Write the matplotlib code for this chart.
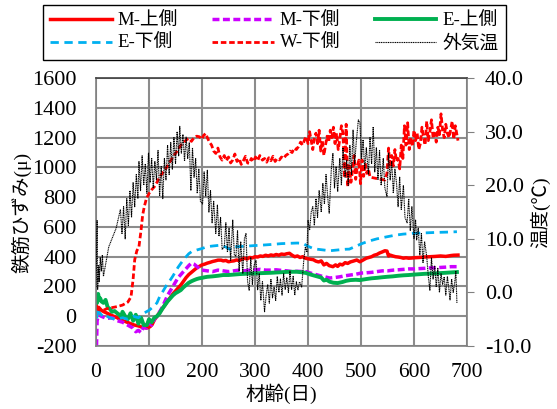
import matplotlib
matplotlib.use("Agg")
import matplotlib.pyplot as plt
from matplotlib.ticker import FormatStrFormatter

plt.rcParams['font.family'] = ['Liberation Serif', 'Noto Sans CJK JP']
plt.rcParams['axes.unicode_minus'] = False

# M-上側
m_up_day = [0, 2, 5, 10, 15, 20, 30, 40, 47, 55, 62, 72, 80, 88, 96, 102, 106, 110, 115, 120,
            125, 130, 134, 140, 145, 150, 155, 160, 165, 170, 175, 180, 185, 190, 195, 200, 205,
            210, 215, 220, 225, 230, 236, 240, 245, 250, 255, 260, 265, 270, 275, 280, 285, 290,
            295, 300, 305, 310, 315, 320, 325, 330, 335, 340, 345, 350, 355, 360, 365, 370, 375,
            380, 385, 390, 395, 403, 410, 415, 420, 425, 430, 435, 440, 447, 452, 456, 460, 465,
            470, 475, 480, 485, 492, 498, 505, 510, 515, 520, 525, 530, 535, 540, 545, 549, 552,
            555, 560, 565, 570, 575, 580, 585, 590, 595, 600, 610, 620, 630, 640, 650, 660, 670,
            675, 683]
m_up_val = [80, 20, 60, 40, 30, 22, 5, -10, -25, -35, -45, -59, -65, -75, -79, -70, -55, -25, 0, 25,
            50, 75, 97, 125, 150, 170, 190, 210, 235, 260, 280, 295, 310, 325, 335, 345, 350,
            357, 362, 368, 372, 377, 377, 372, 375, 366, 370, 372, 378, 375, 382, 390, 385, 395,
            392, 400, 398, 405, 402, 410, 405, 412, 408, 415, 410, 418, 415, 420, 423, 410, 400,
            405, 395, 400, 390, 384, 380, 370, 365, 372, 345, 355, 340, 333, 345, 335, 350, 345,
            360, 355, 365, 370, 378, 366, 380, 390, 395, 400, 410, 415, 425, 432, 440, 438, 405,
            411, 405, 400, 398, 395, 390, 393, 390, 391, 393, 395, 398, 400, 402, 405, 402, 408,
            410, 411]

# M-下側
m_low_day = [0, 1, 2, 5, 10, 20, 30, 40, 50, 60, 70, 75, 80, 85, 90, 95, 100, 105, 110, 115, 120,
             125, 130, 135, 140, 145, 150, 155, 160, 165, 170, 175, 180, 185, 190, 195, 200, 210,
             220, 230, 240, 250, 260, 270, 280, 290, 300, 310, 320, 330, 340, 350, 360, 370, 380,
             390, 397, 405, 415, 425, 435, 441, 450, 460, 470, 480, 490, 500, 510, 520, 530, 540,
             550, 561, 570, 580, 590, 600, 610, 620, 630, 640, 650, 660, 670, 681]
m_low_val = [-200, -190, -30, 10, 0, -15, -10, -30, -40, -60, -80, -104, -95, -110, -70, -80, -40,
             -60, -20, 0, 30, 60, 100, 140, 170, 200, 230, 260, 280, 300, 320, 340, 357, 350, 335,
             320, 310, 305, 300, 310, 305, 300, 305, 310, 305, 310, 312, 315, 310, 310, 312, 308,
             305, 300, 302, 300, 299, 290, 280, 270, 262, 257, 260, 265, 272, 277, 282, 290, 292,
             295, 300, 305, 305, 310, 312, 315, 318, 318, 320, 322, 325, 325, 328, 330, 333, 333]

# E-上側
e_up_day = [0, 2, 4, 6, 8, 10, 14, 18, 22, 26, 30, 35, 40, 44, 47, 50, 55, 60, 65, 70, 75, 80, 85,
            90, 96, 100, 105, 110, 115, 120, 125, 130, 135, 140, 145, 150, 155, 160, 165, 170, 175,
            180, 185, 190, 195, 200, 205, 210, 220, 230, 240, 250, 260, 270, 280, 290, 300, 314,
            330, 345, 360, 378, 390, 397, 405, 415, 425, 430, 435, 441, 448, 456, 465, 472, 480,
            490, 498, 510, 520, 530, 540, 549, 560, 570, 580, 590, 600, 620, 640, 660, 681]
e_up_val = [130, 90, 150, 110, 120, 100, 90, 110, 60, 50, 30, 35, 20, 10, -5, 30, 0, -20, 20, -30,
            10, -50, -10, -60, -59, -20, -40, -10, 0, 20, 50, 75, 100, 120, 140, 155, 165, 176, 195,
            210, 225, 235, 243, 250, 255, 258, 262, 265, 268, 272, 277, 277, 280, 283, 285, 287,
            288, 290, 292, 295, 298, 299, 295, 290, 280, 270, 260, 240, 245, 232, 225, 223, 230,
            238, 243, 245, 243, 250, 255, 258, 262, 265, 268, 272, 275, 277, 280, 285, 288, 292, 297]

# E-下側
e_low_day = [0, 2, 5, 10, 15, 20, 30, 40, 50, 60, 70, 80, 90, 100, 110, 115, 120, 125, 130, 135,
             140, 145, 150, 155, 160, 165, 170, 175, 180, 190, 200, 209, 220, 236, 245, 255, 262,
             280, 300, 314, 330, 350, 365, 380, 390, 400, 410, 416, 430, 441, 455, 470, 478, 490,
             503, 515, 530, 549, 565, 580, 598, 620, 640, 660, 681]
e_low_val = [40, -20, 30, 10, -10, 0, -15, -20, -10, -20, 0, -10, 20, 40, 70, 90, 131, 160, 190,
             220, 243, 270, 300, 330, 355, 380, 400, 420, 433, 445, 455, 467, 472, 478, 465, 445,
             467, 470, 475, 478, 482, 488, 490, 492, 490, 470, 455, 451, 445, 440, 445, 450, 451,
             470, 490, 505, 520, 534, 545, 552, 557, 560, 563, 565, 568]

# W-下側
w_low_day = [0, 5, 10, 15, 20, 25, 30, 40, 50, 60, 66, 70, 73, 77, 81, 85, 88, 91, 95, 100, 105,
             110, 115, 120, 125, 130, 135, 140, 145, 150, 155, 160, 165, 170, 175, 180, 185, 190,
             195, 200, 203, 207, 210, 214, 218, 222, 226, 230, 234, 238, 242, 246, 250, 254, 258,
             262, 266, 270, 274, 278, 282, 286, 289, 293, 297, 301, 305, 309, 314, 318, 322, 326,
             330, 334, 338, 342, 346, 350, 354, 358, 362, 366, 370, 374, 378, 382, 386, 390, 394,
             397, 400, 403, 406, 409, 412, 415, 418, 421, 424, 427, 430, 433, 436, 439, 442, 445,
             448, 451, 454, 457, 460, 463, 466, 469, 472, 475, 478, 481, 484, 487, 490, 493, 496,
             499, 502, 505, 508, 511, 514, 517, 530, 545, 549, 552, 555, 558, 561, 564, 567, 570,
             573, 576, 579, 582, 585, 588, 591, 594, 597, 600, 603, 606, 609, 612, 615, 618, 621,
             624, 627, 630, 633, 636, 639, 642, 645, 648, 651, 654, 657, 660, 663, 666, 669, 672,
             675, 678, 681, 683]
w_low_val = [60, 45, 40, 42, 50, 55, 58, 65, 75, 95, 130, 250, 380, 440, 467, 580, 680, 735, 790,
             825, 850, 870, 900, 935, 960, 982, 1010, 1040, 1070, 1094, 1120, 1150, 1165, 1184,
             1195, 1175, 1200, 1210, 1206, 1190, 1215, 1228, 1200, 1170, 1150, 1110, 1094, 1130,
             1070, 1049, 1080, 1045, 1070, 1030, 1050, 1090, 1040, 1060, 1020, 1045, 1075, 1030,
             1027, 1060, 1040, 1070, 1045, 1080, 1049, 1060, 1035, 1065, 1045, 1075, 1040, 1060,
             1050, 1070, 1060, 1080, 1090, 1110, 1100, 1130, 1120, 1140, 1170, 1150, 1190, 1206,
             1160, 1240, 1180, 1120, 1200, 1230, 1160, 1250, 1110, 1180, 1080, 1150, 1210, 1170,
             1250, 1200, 1270, 1160, 1230, 1120, 1190, 1280, 1230, 930, 1290, 870, 1010, 900, 980,
             1080, 920, 1010, 1049, 890, 1050, 940, 1030, 960, 990, 935, 925, 915, 960, 1130, 1000,
             1080, 1010, 1120, 1040, 1060, 990, 1150, 1060, 1280, 1150, 1300, 1120, 1200, 1140,
             1250, 1180, 1230, 1120, 1160, 1270, 1200, 1150, 1310, 1180, 1240, 1320, 1200, 1230,
             1170, 1270, 1220, 1360, 1250, 1200, 1290, 1230, 1200, 1250, 1310, 1190, 1280, 1220,
             1180]

# 外気温 (℃)
temp_day = [0, 2, 3, 5, 6, 8, 10, 12, 14, 24, 38, 46, 49, 52, 55, 58, 61, 64, 67, 70, 73, 76, 79,
            81, 84, 87, 90, 93, 96, 99, 102, 105, 108, 111, 114, 117, 120, 123, 126, 129, 132, 135,
            138, 141, 144, 147, 150, 153, 156, 158, 161, 164, 167, 170, 173, 176, 179, 182, 185,
            188, 191, 194, 197, 201, 204, 207, 210, 213, 216, 219, 222, 226, 229, 232, 235, 238,
            242, 245, 248, 251, 254, 258, 261, 264, 267, 270, 273, 277, 280, 283, 286, 289, 292,
            295, 298, 302, 305, 308, 311, 314, 318, 321, 324, 327, 330, 333, 336, 339, 342, 345,
            348, 351, 354, 357, 360, 363, 366, 369, 372, 375, 378, 381, 384, 388, 392, 395, 398,
            400, 403, 406, 409, 412, 415, 418, 421, 425, 428, 431, 434, 437, 440, 444, 447, 450,
            453, 456, 460, 463, 466, 470, 473, 476, 479, 482, 485, 488, 491, 495, 498, 501, 504,
            507, 510, 514, 517, 520, 523, 526, 529, 532, 535, 538, 542, 545, 549, 552, 555, 558,
            561, 564, 567, 570, 573, 576, 580, 583, 587, 590, 593, 596, 600, 603, 605, 608, 611,
            614, 617, 620, 624, 627, 630, 633, 636, 639, 642, 645, 648, 651, 654, 657, 660, 663,
            666, 668, 671, 674, 677, 679, 681]
temp_val = [1.0, 13.5, 0.5, 5.0, 2.0, 6.5, 4.0, 7.0, 3.0, 8.5, 12.0, 15.5, 11.0, 16.0, 10.0, 17.5,
            12.5, 19.0, 14.0, 20.5, 16.0, 22.0, 17.5, 24.5, 19.0, 25.5, 20.0, 24.0, 18.5, 26.0,
            20.5, 25.0, 19.5, 24.5, 21.0, 26.5, 18.0, 23.5, 17.5, 25.0, 21.0, 27.5, 22.0, 28.0,
            23.0, 29.0, 24.0, 30.0, 25.5, 31.0, 26.0, 29.5, 24.5, 29.0, 25.0, 28.0, 19.0, 27.0,
            21.5, 25.0, 18.5, 23.0, 17.0, 16.5, 22.5, 18.0, 22.8, 15.0, 19.0, 13.0, 17.0, 11.0,
            16.3, 10.5, 14.0, 8.0, 8.5, 13.0, 7.5, 12.0, 6.0, 13.5, 7.0, 6.7, 11.5, 4.0, 9.5, 3.5,
            10.0, 11.0, 2.0, 0.4, 6.5, 1.5, 5.0, 6.0, 0.5, 3.5, -1.5, 2.0, -3.6, -0.5, 1.5, -2.0,
            2.5, -1.0, 1.0, -1.5, 3.0, 0.0, 2.5, -0.5, 3.5, 0.5, 2.8, 0.0, 4.0, 0.5, 3.0, -0.5,
            2.0, 0.5, 2.0, 1.0, 6.0, 8.5, 7.5, 13.5, 11.6, 15.0, 16.0, 12.5, 17.5, 14.0, 19.0,
            15.0, 20.4, 16.5, 22.0, 18.0, 14.8, 23.0, 26.0, 19.5, 23.5, 18.8, 25.0, 20.0, 27.0,
            21.5, 24.7, 20.0, 27.5, 22.0, 30.3, 24.0, 28.0, 32.2, 31.6, 25.0, 28.5, 23.0, 27.0,
            22.0, 29.0, 24.0, 30.9, 22.5, 27.0, 21.0, 26.5, 20.0, 25.0, 19.5, 17.9, 26.0, 21.0,
            24.5, 18.5, 23.0, 20.4, 16.0, 21.5, 15.5, 20.0, 14.0, 13.0, 17.5, 11.5, 16.0, 10.0,
            13.5, 9.8, 12.0, 7.0, 11.0, 5.5, 9.5, 6.7, 3.0, 0.4, 6.5, 2.5, 5.0, 1.0, 4.5, 0.0, 3.5,
            1.5, 2.9, -0.5, 3.0, 0.5, -1.4, 2.5, 0.0, 2.0, 4.0, -2.0]

fig = plt.figure(figsize=(5.57, 4.09), dpi=100)
ax = fig.add_axes([0.1724, 0.154, 0.666, 0.655])

l_mu, = ax.plot(m_up_day, m_up_val, color='#ff0000', lw=2.5, label='M-上側')
l_ml, = ax.plot(m_low_day, m_low_val, color='#cc00ff', lw=2.5, ls=(0, (2, 1)), label='M-下側')
l_eu, = ax.plot(e_up_day, e_up_val, color='#00b050', lw=2.8, label='E-上側')
l_el, = ax.plot(e_low_day, e_low_val, color='#00b0f0', lw=2.0, ls=(0, (3, 2)), label='E-下側')
l_wl, = ax.plot(w_low_day, w_low_val, color='#ff0000', lw=2.0, ls=(0, (2, 1)), label='W-下側')

ax.set_xlim(0, 700)
ax.set_ylim(-200, 1600)
ax.set_xticks(range(0, 701, 100))
ax.set_yticks(range(-200, 1601, 200))
ax.grid(True, color='#8c8c8c', lw=1.5)
ax.set_axisbelow(True)
ax.tick_params(axis='y', length=0, labelsize=16, pad=14)
ax.tick_params(axis='x', length=0, labelsize=15.5, pad=12)
for sp in ax.spines.values():
    sp.set_color('#808080')
    sp.set_linewidth(1.2)
ax.spines['top'].set_color('#404040')
ax.set_xlabel('材齢(日)', fontsize=14)
ax.set_ylabel('鉄筋ひずみ(μ)', fontsize=14)
ax.xaxis.set_label_coords(0.5, -0.14)
ax.yaxis.set_label_coords(-0.175, 0.5)

ax2 = ax.twinx()
l_t, = ax2.plot(temp_day, temp_val, color='black', lw=0.8, ls=(0, (1, 0.6)), label='外気温')
ax2.set_ylim(-10, 40)
ax2.set_yticks(range(-10, 41, 10))
ax2.yaxis.set_major_formatter(FormatStrFormatter('%.1f'))
ax2.tick_params(axis='y', length=5, color='#808080', labelsize=16, pad=8)
for sp in ax2.spines.values():
    sp.set_visible(False)
ax2.set_ylabel('温度(℃)', fontsize=14)
ax2.yaxis.set_label_coords(1.17, 0.5)

handles = [l_mu, l_el, l_ml, l_wl, l_eu, l_t]
fig.legend(handles, [h.get_label() for h in handles], ncol=3, mode='expand',
           bbox_to_anchor=(0.077, 0.853, 0.831, 0.127), loc='lower left',
           fancybox=False, edgecolor='black', framealpha=1, fontsize=13.5,
           handlelength=3.3, borderaxespad=0, columnspacing=1.0, labelspacing=0.3,
           handletextpad=0.3)

fig.savefig('out.png', dpi=100)
